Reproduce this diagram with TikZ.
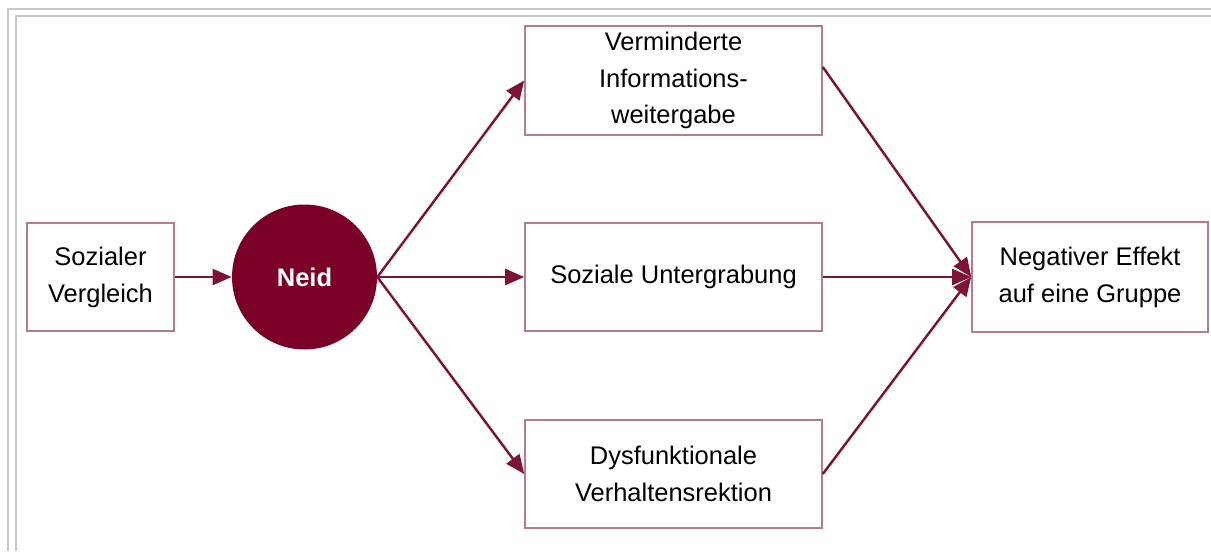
\documentclass[tikz,border=0pt]{standalone}
\usepackage{fontspec}
\setmainfont{Liberation Sans}
\usetikzlibrary{arrows.meta}

\definecolor{neidred}{RGB}{122,0,40}
\definecolor{pfeil}{RGB}{125,20,55}
\definecolor{rahmen}{RGB}{180,125,142}
\definecolor{rand}{RGB}{200,200,200}

\begin{document}
\begin{tikzpicture}[
	box/.style={
		draw=rahmen, line width=0.9pt, rectangle,
		minimum width=5.94cm, minimum height=2.17cm,
		font=\fontsize{14.5}{21}\selectfont, align=center, inner sep=2pt
	},
	kreis/.style={
		circle, fill=neidred, minimum size=2.9cm, inner sep=0pt,
		text=white, font=\fontsize{14.5}{21}\selectfont\bfseries
	},
	arr/.style={-{Triangle[length=0.38cm, width=0.32cm]}, line width=1.4pt, draw=pfeil},
	randlinie/.style={draw=rand, line width=1.3pt},
	]
	
	\useasboundingbox (0,0) rectangle (24.22,11.02);
	
	% outer frame of the figure
	\draw[randlinie] (0.16,0) -- (0.16,10.84) -- (24.22,10.84);
	\draw[randlinie] (0.32,0) -- (0.32,10.70) -- (24.22,10.70);
	
	\node[box, minimum width=2.94cm, minimum height=2.16cm] (vergleich) at (2.01, 5.48) {Sozialer\\Vergleich};
	\node[kreis] (neid) at (6.09, 5.48) {Neid};
	
	\node[box] (info)      at (13.47, 9.41) {Verminderte\\Informations-\\weitergabe};
	\node[box] (untergrab) at (13.47, 5.48) {Soziale Untergrabung};
	\node[box] (dysf)      at (13.47, 1.54) {Dysfunktionale\\Verhaltensrektion};
	
	\node[box, minimum width=4.72cm, minimum height=2.2cm] (effekt) at (21.80, 5.48) {Negativer Effekt\\auf eine Gruppe};
	
	\draw[arr] (vergleich.east) -- (neid.west);
	
	\draw[arr] (neid.east) -- (info.west);
	\draw[arr] (neid.east) -- (untergrab.west);
	\draw[arr] (neid.east) -- (dysf.west);
	
	\draw[arr] ([yshift=0.27cm]info.east) -- (effekt.west);
	\draw[arr] (untergrab.east) -- (effekt.west);
	\draw[arr] (dysf.east) -- (effekt.west);
	
\end{tikzpicture}
\end{document}
